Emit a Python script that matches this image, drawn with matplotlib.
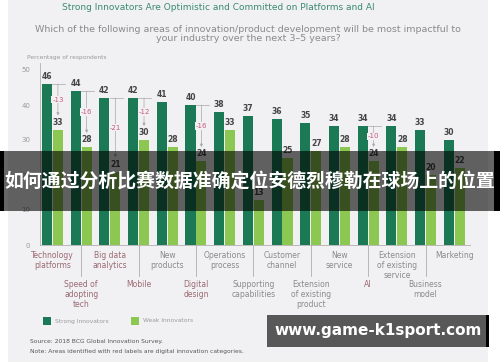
import matplotlib
matplotlib.use("Agg")
import matplotlib.pyplot as plt
from matplotlib.patches import Rectangle
from matplotlib.transforms import blended_transform_factory
import numpy as np

categories = ["Technology\nplatforms", "Speed of\nadopting\ntech", "Big data\nanalytics", "Mobile",
              "New\nproducts", "Digital\ndesign", "Operations\nprocess", "Supporting\ncapabilities",
              "Customer\nchannel", "Extension\nof existing\nproduct", "New\nservice", "AI",
              "Extension\nof existing\nservice", "Business\nmodel", "Marketing"]
strong = [46, 44, 42, 42, 41, 40, 38, 37, 36, 35, 34, 34, 34, 33, 30]
weak = [33, 28, 21, 30, 28, 24, 33, 13, 25, 27, 28, 24, 28, 20, 22]
digital = [True, True, True, True, False, True, False, False, False, False, False, True, False, False, False]
y_ticks = [0, 10, 20, 30, 40, 50]

W, H = 500, 362
fig = plt.figure(figsize=(W / 100, H / 100), dpi=100)
fig.patch.set_facecolor("white")

def fy(p):
    return 1 - p / H

def fx(p):
    return p / W

# light panel
fig.patches.append(Rectangle((fx(8), 0), fx(480), 1, transform=fig.transFigure,
                             facecolor="#f1f0f3", edgecolor="none", zorder=-5))

n = len(strong)
ax = fig.add_axes([fx(40), fy(245), fx(430), (245 - 63) / H])
ax.set_zorder(1)
ax.set_facecolor("none")
x = np.arange(n)
dark = "#1b7a55"
light = "#8cc851"
bw = 0.35
ax.bar(x - 0.19, strong, bw, color=dark, zorder=2)
ax.bar(x + 0.19, weak, bw, color=light, zorder=2)
ax.set_xlim(-0.435, 14.55)
ax.set_ylim(0, 52)
ax.set_yticks(y_ticks)
ax.set_yticklabels([str(t) for t in y_ticks], fontsize=5, color="#9a9a9a")
ax.tick_params(axis="y", length=0, pad=7)
ax.set_xticks([])
for s in ["top", "right"]:
    ax.spines[s].set_visible(False)
ax.spines["left"].set_color("#b0b0b0")
ax.spines["bottom"].set_color("#b0b0b0")
ax.spines["left"].set_linewidth(0.6)
ax.spines["bottom"].set_linewidth(0.6)

for i in range(n):
    ax.text(x[i] - 0.19, strong[i] + 0.8, str(strong[i]), ha="center", va="bottom",
            fontsize=5.5, fontweight="bold", color="#444444")
    ax.text(x[i] + 0.19, weak[i] + 0.8, str(weak[i]), ha="center", va="bottom",
            fontsize=5.5, fontweight="bold", color="#444444")
    if digital[i]:
        d = weak[i] - strong[i]
        ax.plot([x[i] - 0.01, x[i] + 0.45], [strong[i], strong[i]], color="#a8a8a8", lw=0.5, zorder=1)
        ax.annotate("", xy=(x[i] + 0.19, weak[i] + 4.0), xytext=(x[i] + 0.19, strong[i]),
                    arrowprops=dict(arrowstyle="-|>", color="#a8a8a8", lw=0.5,
                                    mutation_scale=4, shrinkA=0, shrinkB=0), zorder=1)
        ax.text(x[i] + 0.19, (strong[i] + weak[i] + 4) / 2, str(d), ha="center", va="center",
                fontsize=5, color="#c8587a",
                bbox=dict(boxstyle="square,pad=0.1", facecolor="#f1f0f3", edgecolor="none"))

bt = blended_transform_factory(ax.transData, fig.transFigure)
for i in range(n):
    col = "#9a6a72" if digital[i] else "#8a8a8a"
    if i % 2 == 0:
        ax.text(x[i], fy(251), categories[i], transform=bt, ha="center", va="top",
                fontsize=5.5, color=col, linespacing=1.15)
    else:
        ax.plot([x[i], x[i]], [fy(245), fy(276)], transform=bt, color="#a0a0a0", lw=0.5, clip_on=False)
        ax.text(x[i], fy(280), categories[i], transform=bt, ha="center", va="top",
                fontsize=5.5, color=col, linespacing=1.15)

# titles
fig.text(fx(218), fy(7), "Strong Innovators Are Optimistic and Committed on Platforms and AI",
         ha="center", va="center", fontsize=6.5, color="#3a8a70")
fig.text(fx(248), fy(34), "Which of the following areas of innovation/product development will be most impactful to\nyour industry over the next 3\u20135 years?",
         ha="center", va="center", fontsize=6.8, color="#8a8a8a", linespacing=1.05)
fig.text(fx(27), fy(57), "Percentage of respondents", ha="left", va="center", fontsize=4.2, color="#9a9a9a")

# legend
fig.patches.append(Rectangle((fx(43), fy(325)), fx(8), 8 / H, transform=fig.transFigure,
                             facecolor=dark, edgecolor="none"))
fig.text(fx(55), fy(321), "Strong Innovators", ha="left", va="center", fontsize=4.3, color="#9a9a9a")
fig.patches.append(Rectangle((fx(131), fy(325)), fx(8), 8 / H, transform=fig.transFigure,
                             facecolor=light, edgecolor="none"))
fig.text(fx(143), fy(321), "Weak Innovators", ha="left", va="center", fontsize=4.3, color="#9a9a9a")

fig.text(fx(30), fy(341), "Source: 2018 BCG Global Innovation Survey.", ha="left", va="center",
         fontsize=4.3, color="#555555")
fig.text(fx(30), fy(351), "Note: Areas identified with red labels are digital innovation categories.",
         ha="left", va="center", fontsize=4.3, color="#555555")

# overlay band
fig.patches.append(Rectangle((0, fy(211)), 1, 60 / H, transform=fig.transFigure,
                             facecolor="black", alpha=0.6, edgecolor="none", zorder=10))
fig.patches.append(Rectangle((0, fy(211)), fx(4), 60 / H, transform=fig.transFigure,
                             facecolor="black", edgecolor="none", zorder=10))
fig.patches.append(Rectangle((fx(494), fy(211)), fx(6), 60 / H, transform=fig.transFigure,
                             facecolor="black", edgecolor="none", zorder=10))
fig.text(0.5, fy(181), "如何通过分析比赛数据准确定位安德烈穆勒在球场上的位置", ha="center", va="center",
         fontsize=13.6, fontweight="bold", color="white", family=["Noto Sans CJK SC", "DejaVu Sans"],
         zorder=11)

# watermark
fig.patches.append(Rectangle((fx(267), fy(347)), fx(220), 32 / H, transform=fig.transFigure,
                             facecolor="#585858", edgecolor="none", zorder=10))
fig.patches.append(Rectangle((fx(486), fy(347)), fx(3), 32 / H, transform=fig.transFigure,
                             facecolor="black", edgecolor="none", zorder=10))
fig.text(fx(378), fy(331), "www.game-k1sport.com", ha="center", va="center", fontsize=11,
         fontweight="bold", color="white", zorder=11)

fig.savefig("out.png", dpi=100)
